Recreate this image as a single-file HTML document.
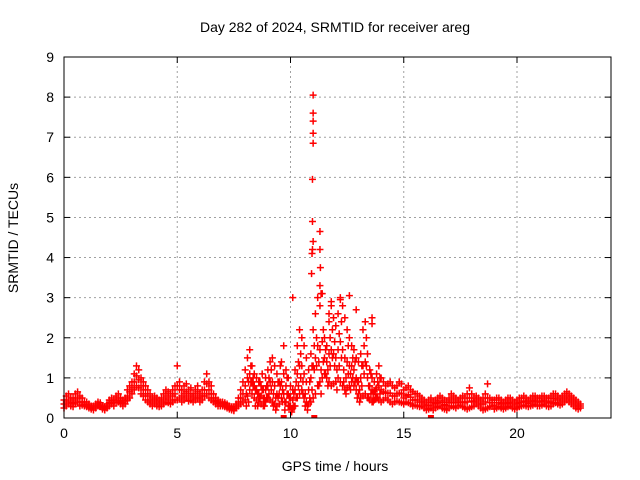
<!DOCTYPE html>
<html><head><meta charset="utf-8"><style>
body{margin:0;background:#fff;}
svg{display:block;font-family:"Liberation Sans",sans-serif;}
</style></head><body>
<svg id="chart" width="640" height="480" viewBox="0 0 640 480" xmlns="http://www.w3.org/2000/svg">
<rect width="640" height="480" fill="#fff"/>
<text x="335" y="32" text-anchor="middle" font-size="14">Day 282 of 2024, SRMTID for receiver areg</text>
<text x="335" y="471" text-anchor="middle" font-size="14">GPS time / hours</text>
<text transform="translate(18,238) rotate(-90)" text-anchor="middle" font-size="14">SRMTID / TECUs</text>
<g id="grid"></g><g id="marks"></g><g id="axes"></g>
</svg>
<script>
const xTicks=[0,5,10,15,20];
const yTicks=[0,1,2,3,4,5,6,7,8,9];
const lowVals=[.25,.3,.35,.3,.28,.35,.4,.3,.32,.3,
.28,.25,.22,.2,.25,.3,.28,.22,.2,.25,
.3,.35,.3,.38,.4,.35,.3,.35,.45,.5,
.6,.7,.8,.75,.6,.55,.45,.4,.35,.3,
.35,.3,.28,.3,.35,.4,.38,.35,.4,.45,
.45,.5,.4,.45,.5,.42,.45,.4,.45,.5,
.4,.45,.55,.6,.5,.45,.4,.35,.3,.3,
.3,.28,.25,.22,.2,.18,.25,.3,.35,.4,
.45,.55,.7,.6,.5,.45,.4,.35,.3,.4,
.5,.45,.4,.35,.3,.35,.5,.6,.4,.3,
.3,.25,.3,.5,.6,.7,.5,.4,.35,.4,
.5,.6,.8,.9,1.0,1.1,1.0,.9,.8,.85,
.9,1.0,.9,.8,.7,.75,.8,.9,.8,.7,
.6,.5,.55,.6,.5,.45,.4,.45,.5,.45,
.4,.45,.5,.45,.4,.35,.4,.42,.4,.38,
.35,.4,.38,.35,.3,.32,.3,.28,.3,.25,
.2,.22,.25,.2,.25,.28,.3,.25,.22,.2,
.25,.3,.28,.25,.3,.32,.28,.25,.22,.25,
.28,.3,.35,.3,.25,.2,.22,.25,.28,.3,
.22,.25,.28,.25,.22,.25,.28,.3,.25,.22,
.25,.28,.3,.32,.3,.28,.3,.32,.35,.3,
.3,.32,.35,.3,.28,.3,.35,.38,.35,.32,
.35,.4,.45,.4,.35,.3,.25,.22,.25];
const highVals=[.45,.55,.6,.5,.5,.6,.65,.55,.5,.4,
.4,.35,.3,.3,.35,.4,.38,.3,.28,.35,
.45,.5,.45,.55,.6,.5,.45,.5,.7,.8,
.9,1.1,1.3,1.2,1.0,.9,.8,.7,.6,.5,
.55,.5,.45,.5,.6,.7,.65,.6,.7,.8,
1.3,.9,.7,.8,.85,.7,.75,.6,.7,.8,
.6,.7,.9,1.1,.9,.8,.6,.5,.45,.4,
.4,.38,.35,.3,.28,.25,.35,.5,.7,.9,
1.2,1.5,1.7,1.3,1.1,1.0,.9,.8,.7,1.0,
1.2,1.4,1.5,1.3,1.1,.9,1.4,1.8,1.2,1.0,
.8,.7,1.2,1.8,2.2,2.0,1.8,1.5,1.2,1.6,
2.2,2.6,3.0,2.8,3.1,2.0,1.8,2.4,2.8,2.5,
2.3,2.6,3.0,2.8,2.5,2.2,2.0,1.8,1.7,1.5,
1.4,1.6,2.2,2.4,1.6,1.2,1.0,.9,1.1,1.3,
1.0,.9,.8,.85,.9,.8,.75,.8,.9,.85,
.7,.75,.8,.7,.65,.6,.6,.55,.5,.45,
.4,.45,.5,.4,.45,.5,.55,.5,.45,.4,
.5,.6,.55,.5,.45,.5,.55,.5,.6,.75,
.6,.5,.55,.5,.45,.5,.6,.85,.5,.45,
.45,.5,.5,.45,.4,.45,.5,.5,.45,.4,
.45,.5,.5,.55,.5,.45,.5,.55,.55,.5,
.5,.55,.55,.5,.5,.55,.6,.6,.55,.5,
.55,.6,.65,.6,.55,.5,.45,.4,.35];
const midVals=[.35,.4,.45,.4,.38,.45,.5,.4,.4,.35,
.32,.3,.26,.25,.3,.35,.32,.26,.24,.3,
.38,.42,.38,.45,.5,.42,.38,.42,.55,.65,
.75,.9,1.05,.95,.8,.7,.6,.55,.45,.4,
.45,.4,.35,.4,.45,.55,.5,.45,.55,.6,
.8,.7,.55,.6,.65,.55,.6,.5,.55,.65,
.5,.55,.7,.85,.7,.6,.5,.42,.38,.35,
.35,.32,.3,.26,.24,.22,.3,.4,.5,.6,
.8,1.0,1.1,.9,.8,.7,.6,.55,.5,.7,
.8,.9,.9,.8,.6,.6,.9,1.1,.8,.6,
.5,.45,.7,1.1,1.3,1.3,1.1,.9,.7,1.0,
1.3,1.5,1.8,1.7,1.9,1.5,1.4,1.6,1.7,1.6,
1.5,1.7,1.9,1.7,1.5,1.4,1.3,1.3,1.2,1.0,
.9,1.0,1.3,1.4,1.0,.8,.7,.65,.75,.8,
.7,.65,.62,.62,.62,.55,.55,.6,.62,.6,
.5,.55,.58,.52,.45,.45,.45,.4,.4,.35,
.3,.32,.38,.3,.35,.38,.42,.38,.33,.3,
.38,.45,.4,.38,.38,.4,.4,.38,.4,.5,
.42,.4,.45,.4,.35,.35,.4,.5,.38,.38,
.32,.38,.38,.35,.3,.35,.38,.4,.35,.3,
.35,.38,.4,.42,.4,.36,.4,.42,.45,.4,
.4,.42,.45,.4,.38,.42,.48,.5,.45,.4,
.45,.5,.55,.5,.45,.4,.35,.3,.3];
const stormStart=8.05;
const stormA=[.6,.9,1.3,1.0,.7,.6,.9,1.1,.5,.8,
1.0,1.2,.6,.5,.9,1.3,.7,.4,1.0,.5,
.2,.6,.9,1.4,1.6,.9,.6,.3,.9,1.3,
1.8,2.0,1.4,1.2,2.2,1.7,1.2,2.0,2.2,1.9,
1.2,2.1,2.4,1.2,1.0,1.8,1.1,1.5,1.4,.9,
.7,1.3,1.8,2.0,.8,1.1,.6,.7,.9,1.0];
const stormB=[.3,.4,.9,.8,.3,.3,.5,.7,.3,.5,
.6,.7,.3,.2,.5,.8,.4,.2,.6,.3,
.15,.3,.5,.8,1.0,.6,.3,.2,.5,.7,
1.2,1.3,.8,.6,1.4,1.1,.8,1.3,1.5,1.3,
.7,1.3,1.5,.9,.6,1.1,.7,1.0,.9,.5,
.4,.8,1.1,1.3,.5,.6,.4,.5,.5,.6];
const outlierTimes=[11.0,11.0,11.0,11.0,11.0,10.97,10.97,11.0,10.97,10.95,10.93,11.3,11.3,11.32,11.3,11.35,10.1,11.8,12.2,12.6,13.6,13.6,11.7,12.9];
const outlierVals=[8.05,7.6,7.4,7.1,6.85,5.95,4.9,4.4,4.2,4.1,3.6,4.65,4.2,3.75,3.3,3.1,3.0,2.9,2.95,3.05,2.5,2.35,2.6,2.7];
const zeroTimes=[9.7,11.05,16.2];

const X0=64,X1=611,Y0=418,Y1=57,XMAX=24.15,YMAX=9;
const xs=v=>X0+(X1-X0)*v/XMAX;
const ys=v=>Y0-(Y0-Y1)*v/YMAX;
const NS="http://www.w3.org/2000/svg";
function mk(tag,attrs,parent){const e=document.createElementNS(NS,tag);for(const k in attrs)e.setAttribute(k,attrs[k]);parent.appendChild(e);return e;}
const grid=document.getElementById('grid'),axes=document.getElementById('axes'),marks=document.getElementById('marks');
xTicks.forEach(t=>{
 const x=xs(t);
 if(t>0){const g=mk('line',{x1:x,x2:x,y1:Y0,y2:Y1,stroke:'#a0a0a0','stroke-dasharray':'2,3'},grid);
 
 }
 mk('line',{x1:x,x2:x,y1:Y0,y2:Y0-6,stroke:'#000'},axes);
 mk('line',{x1:x,x2:x,y1:Y1,y2:Y1+6,stroke:'#000'},axes);
 const l=mk('text',{x:x,y:Y0+20,'text-anchor':'middle','font-size':'14'},axes);l.textContent=t;
 
 
});
yTicks.forEach(t=>{
 const y=ys(t);
 if(t>0&&t<9){const g=mk('line',{x1:X0,x2:X1,y1:y,y2:y,stroke:'#a0a0a0','stroke-dasharray':'2,3'},grid);
 
 }
 mk('line',{x1:X0,x2:X0+6,y1:y,y2:y,stroke:'#000'},axes);
 mk('line',{x1:X1,x2:X1-6,y1:y,y2:y,stroke:'#000'},axes);
 const l=mk('text',{x:X0-10,y:y+5,'text-anchor':'end','font-size':'14'},axes);l.textContent=t;
 
 
});
const fr=mk('rect',{x:X0,y:Y1,width:X1-X0,height:Y0-Y1,fill:'none',stroke:'#000'},axes);


function plus(t,v){
 const x=xs(t),y=ys(v);
 const p=mk('path',{d:`M${x-3.5},${y}h7M${x},${y-3.5}v7`,stroke:'#f00','stroke-width':'1.5',fill:'none'},marks);
 
 
}
[lowVals,midVals,highVals].forEach(arr=>arr.forEach((v,i)=>plus(i*0.1,v)));
[stormA,stormB].forEach(arr=>arr.forEach((v,i)=>plus(stormStart+i*0.1,v)));
outlierTimes.forEach((t,i)=>plus(t,outlierVals[i]));
zeroTimes.forEach(t=>{
 const r=mk('rect',{x:xs(t)-3,y:Y0-3,width:6,height:3,fill:'#f00'},marks);
 
 
});
</script>
</body></html>
